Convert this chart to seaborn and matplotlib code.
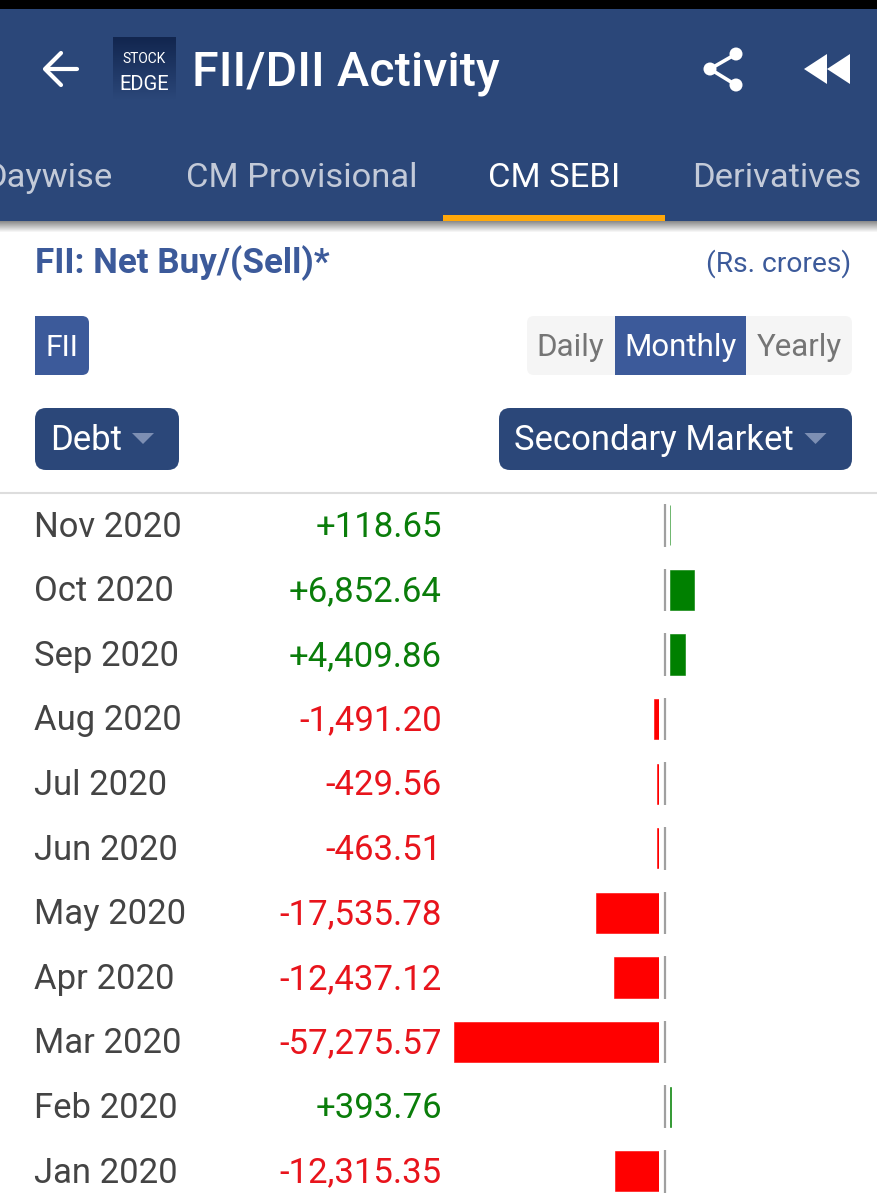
import numpy as np
import pandas as pd
import matplotlib.pyplot as plt
import seaborn as sns
from matplotlib.patches import Rectangle, FancyBboxPatch, Polygon, Circle

months = ["Nov 2020", "Oct 2020", "Sep 2020", "Aug 2020", "Jul 2020", "Jun 2020",
          "May 2020", "Apr 2020", "Mar 2020", "Feb 2020", "Jan 2020"]
net_values = [118.65, 6852.64, 4409.86, -1491.20, -429.56, -463.51,
              -17535.78, -12437.12, -57275.57, 393.76, -12315.35]
tabs = ["Daywise", "CM Provisional", "CM SEBI", "Derivatives"]
periods = ["Daily", "Monthly", "Yearly"]

W, H = 877, 1200
NAVY = "#2b4779"
BLUE = "#3c5a9a"
GREEN = "#008000"
RED = "#ff0000"
PX_PER_CRORE = 205.5 / 57275.57
ROW_H = 64.6
ROWS_TOP = 493

sns.set_theme(style="white")
plt.rcParams["font.family"] = ["Roboto", "DejaVu Sans"]

fig = plt.figure(figsize=(W / 100, H / 100), dpi=100, facecolor="white")


def px_axes(left, top, right, bottom):
    return fig.add_axes([left / W, 1 - bottom / H, (right - left) / W, (bottom - top) / H])


df = pd.DataFrame({"month": months, "value": net_values})

# --------------------------
# bars: red and green start either side of the grey centre line
# --------------------------
neg_left, neg_right = 440, 659
pos_left, pos_right = 669.5, 800
row_limits = (-0.5 + (H - ROWS_TOP) / ROW_H, -0.5)

ax_neg = px_axes(neg_left, ROWS_TOP, neg_right, H)
sns.barplot(data=df[df["value"] < 0], x="value", y="month", order=months, orient="h",
            color=RED, saturation=1, width=0.62, edgecolor=RED, linewidth=0.4, ax=ax_neg)
ax_neg.set_xlim(-(neg_right - neg_left) / PX_PER_CRORE, 0)

ax_pos = px_axes(pos_left, ROWS_TOP, pos_right, H)
sns.barplot(data=df[df["value"] > 0], x="value", y="month", order=months, orient="h",
            color=GREEN, saturation=1, width=0.62, edgecolor=GREEN, linewidth=0.4, ax=ax_pos)
ax_pos.set_xlim(0, (pos_right - pos_left) / PX_PER_CRORE)

for ax in (ax_neg, ax_pos):
    ax.set_ylim(*row_limits)
    ax.axis("off")

# row text and centre line share the bars' y scale
ax_rows = px_axes(0, ROWS_TOP, W, H)
ax_rows.set_xlim(0, W)
ax_rows.set_ylim(*row_limits)
ax_rows.axis("off")
for i, (month, value) in enumerate(zip(months, net_values)):
    ax_rows.text(34.5, i + 0.175, month, fontsize=24.9, color="#444444", va="baseline")
    ax_rows.text(442, i + 0.175, f"{value:+,.2f}", fontsize=25, ha="right", va="baseline",
                 color="#0a7d0a" if value > 0 else "#e8141c")
    ax_rows.vlines(664.5, i - 0.33, i + 0.33, color="#a0a0a0", lw=1.6)

# --------------------------
# app chrome, in pixel coordinates
# --------------------------
ui = px_axes(0, 0, W, H)
ui.set_xlim(0, W)
ui.set_ylim(H, 0)
ui.axis("off")
ui.patch.set_alpha(0)

ui.add_patch(Rectangle((0, 0), W, 9, color="black", lw=0))
ui.add_patch(Rectangle((0, 9), W, 212, color=NAVY, lw=0))
shadow = np.linspace(0.45, 0, 12).reshape(-1, 1)
ui.imshow(1 - shadow, extent=(0, W, 233, 221), cmap="gray", vmin=0, vmax=1, aspect="auto", zorder=1)
ui.set_xlim(0, W)
ui.set_ylim(H, 0)

# back arrow
ui.plot([46, 77], [69, 69], color="white", lw=3, solid_capstyle="round")
ui.plot([61, 45, 61], [53, 69, 85], color="white", lw=3, solid_capstyle="round")

# logo
logo = np.linspace(0, 1, 30).reshape(-1, 1)
ui.imshow(logo, extent=(113, 176, 100, 37), aspect="auto", zorder=2,
          cmap=sns.blend_palette(["#12264f", "#2b4779"], as_cmap=True))
ui.set_xlim(0, W)
ui.set_ylim(H, 0)
ui.text(144.5, 63, "STOCK", fontsize=10, color="white", ha="center", va="baseline", zorder=3)
ui.text(144.5, 90, "EDGE", fontsize=14.5, color="white", ha="center", va="baseline", zorder=3)

ui.text(192, 86, "FII/DII Activity", fontsize=35, color="white", weight="medium", va="baseline")

# share icon
for cx, cy in [(736, 54), (710, 69), (736, 85)]:
    ui.add_patch(Circle((cx, cy), 6.5, color="white", lw=0))
ui.plot([736, 710, 736], [54, 69, 85], color="white", lw=2.6)

# rewind icon
ui.add_patch(Polygon([[804, 69], [827, 54], [827, 84]], color="white", lw=0))
ui.add_patch(Polygon([[827, 69], [850, 54], [850, 84]], color="white", lw=0))

tab_x = [112.5, 186, 488.5, 692]
for name, x in zip(tabs, tab_x):
    active = name == "CM SEBI"
    ui.text(x, 187, name, fontsize=24.8, va="baseline", ha="right" if name == "Daywise" else "left",
            color="white" if active else "#c3cad8")
ui.add_patch(Rectangle((443, 215), 222, 6, color="#ffa80a", lw=0))

ui.text(35, 273, "FII: Net Buy/(Sell)*", fontsize=25.2, weight="bold", color=BLUE, va="baseline")
ui.text(851.5, 272, "(Rs. crores)", fontsize=20.3, color=BLUE, ha="right", va="baseline")

# FII chip, square on the left
ui.add_patch(FancyBboxPatch((40, 316), 49, 59, boxstyle="round,pad=0,rounding_size=7", color=BLUE, lw=0))
ui.add_patch(Rectangle((35, 316), 12, 59, color=BLUE, lw=0))
ui.text(62, 356, "FII", fontsize=21.5, color="white", ha="center", va="baseline")

# period toggle
ui.add_patch(FancyBboxPatch((527, 316), 325, 59, boxstyle="round,pad=0,rounding_size=7", color="#f5f5f5", lw=0))
ui.add_patch(Rectangle((615, 316), 131, 59, color=BLUE, lw=0))
for name, x in zip(periods, [570.5, 680.5, 799]):
    ui.text(x, 356, name, fontsize=22.5, ha="center", va="baseline",
            color="white" if name == "Monthly" else "#757575")

# dropdowns
for left, right, label, arrow_x in [(35, 179, "Debt", 143), (499, 852, "Secondary Market", 815.5)]:
    ui.add_patch(FancyBboxPatch((left, 408), right - left, 62, boxstyle="round,pad=0,rounding_size=11",
                                color=NAVY, lw=0))
    ui.text(left + 15, 450, label, fontsize=25, color="white", va="baseline")
    ui.add_patch(Polygon([[arrow_x - 11, 433], [arrow_x + 11, 433], [arrow_x, 444]], color="#7d8fb3", lw=0))

ui.plot([0, W], [493, 493], color="#dddddd", lw=1.5)

fig.savefig("out.png", dpi=100)
